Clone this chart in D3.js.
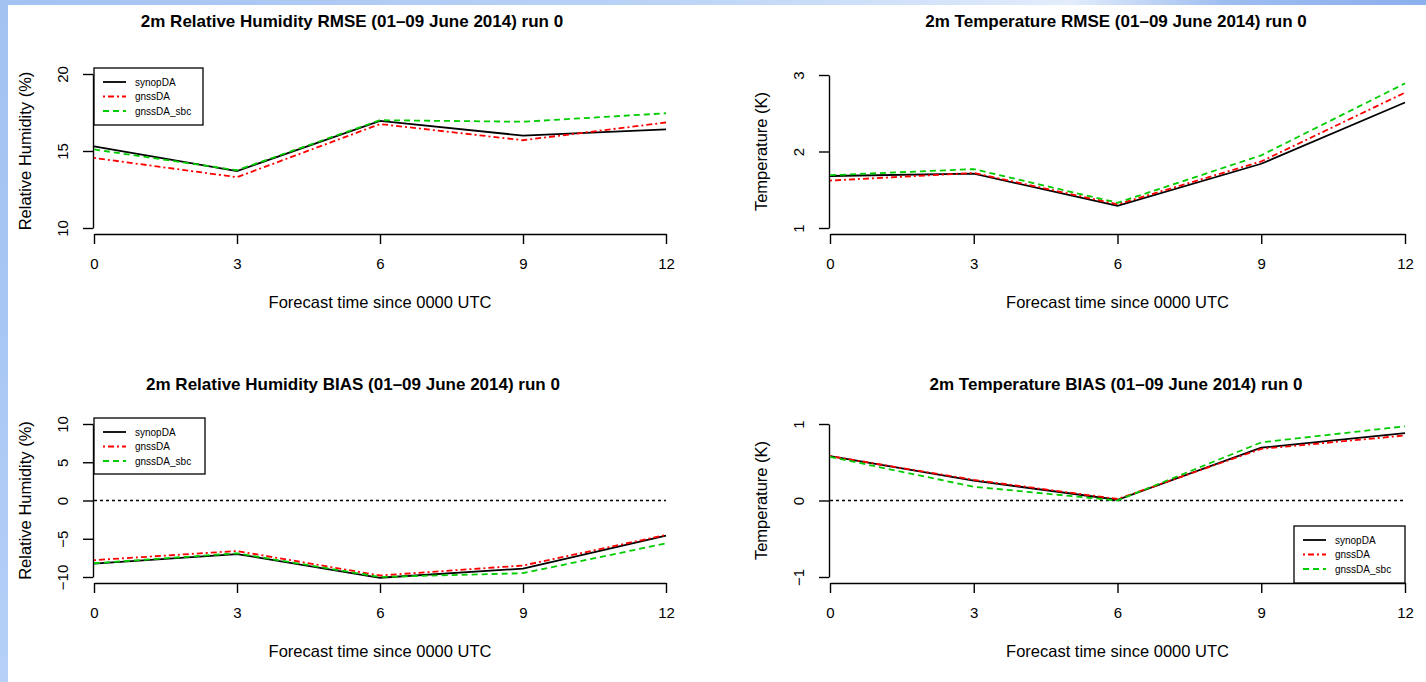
<!DOCTYPE html>
<html>
<head>
<meta charset="utf-8">
<script src="https://cdn.jsdelivr.net/npm/d3@7"></script>
<style>
  html, body { margin: 0; padding: 0; background: #fff; }
  svg { display: block; font-family: "Liberation Sans", Arial, Helvetica, sans-serif; }
</style>
</head>
<body>
<svg width="1426" height="682"></svg>
<script>
// forecast hours and series names
const hours = [0, 3, 6, 9, 12];
const seriesNames = ["synopDA", "gnssDA", "gnssDA_sbc"];

// 2m RH RMSE (%)
const rhRmseSynop = [15.3, 13.7, 16.95, 16.0, 16.4];
const rhRmseGnss  = [14.55, 13.3, 16.75, 15.7, 16.85];
const rhRmseSbc   = [15.1, 13.75, 17.0, 16.9, 17.45];

// 2m T RMSE (K)
const tRmseSynop = [1.68, 1.71, 1.29, 1.84, 2.64];
const tRmseGnss  = [1.62, 1.72, 1.31, 1.87, 2.77];
const tRmseSbc   = [1.69, 1.77, 1.33, 1.95, 2.89];

// 2m RH BIAS (%)
const rhBiasSynop = [-8.25, -7.0, -10.1, -8.9, -4.6];
const rhBiasGnss  = [-7.8, -6.6, -9.8, -8.5, -4.5];
const rhBiasSbc   = [-8.2, -6.9, -10.0, -9.5, -5.6];

// 2m T BIAS (K)
const tBiasSynop = [0.58, 0.26, 0.01, 0.69, 0.88];
const tBiasGnss  = [0.58, 0.27, 0.02, 0.675, 0.85];
const tBiasSbc   = [0.57, 0.18, 0.0, 0.76, 0.97];

const rhRmseTicks = [10, 15, 20];
const tRmseTicks = [1, 2, 3];
const rhBiasTicks = [-10, -5, 0, 5, 10];
const tBiasTicks = [-1, 0, 1];

const colors = ["#000000", "#ff0000", "#00cc00"];
const dashes = [null, "2,3,6,3", "6,4"];

const svg = d3.select("svg");

// slide background: blue strips on the left and top
const defs = svg.append("defs");
const gTop = defs.append("linearGradient").attr("id", "gTop");
[[0, "#a3c2f2"], [0.45, "#b9d2f6"], [0.75, "#e2ecfb"], [0.86, "#9dbdf0"], [1, "#8cb0ee"]]
  .forEach(s => gTop.append("stop").attr("offset", s[0]).attr("stop-color", s[1]));
const gLeft = defs.append("linearGradient").attr("id", "gLeft")
  .attr("x1", 0).attr("x2", 0).attr("y1", 0).attr("y2", 1);
[[0, "#a3c2f2"], [0.5, "#a9c7f4"], [1, "#b6d0f8"]]
  .forEach(s => gLeft.append("stop").attr("offset", s[0]).attr("stop-color", s[1]));

svg.append("rect").attr("x", 0).attr("y", 0).attr("width", 1426).attr("height", 6).attr("fill", "url(#gTop)");
svg.append("rect").attr("x", 0).attr("y", 0).attr("width", 8).attr("height", 682).attr("fill", "url(#gLeft)");
svg.append("rect").attr("x", 8).attr("y", 5).attr("width", 1418).attr("height", 677).attr("fill", "#fff");

const panels = [
  { title: "2m Relative Humidity RMSE (01\u201309 June 2014) run 0", ylab: "Relative Humidity (%)",
    series: [rhRmseSynop, rhRmseGnss, rhRmseSbc], ticks: rhRmseTicks,
    x0: 94, x1: 666, yTop: 74, yBot: 228, axisY: 234, titleX: 352, titleY: 21,
    zero: false, legend: { x: 94, y: 68, w: 109, h: 57 } },
  { title: "2m Temperature RMSE (01\u201309 June 2014) run 0", ylab: "Temperature (K)",
    series: [tRmseSynop, tRmseGnss, tRmseSbc], ticks: tRmseTicks,
    x0: 830, x1: 1405, yTop: 75, yBot: 228, axisY: 234, titleX: 1116, titleY: 21,
    zero: false, legend: null },
  { title: "2m Relative Humidity BIAS (01\u201309 June 2014) run 0", ylab: "Relative Humidity (%)",
    series: [rhBiasSynop, rhBiasGnss, rhBiasSbc], ticks: rhBiasTicks,
    x0: 94, x1: 666, yTop: 424, yBot: 577, axisY: 583, titleX: 353, titleY: 384,
    zero: true, legend: { x: 94, y: 418, w: 111, h: 56 } },
  { title: "2m Temperature BIAS (01\u201309 June 2014) run 0", ylab: "Temperature (K)",
    series: [tBiasSynop, tBiasGnss, tBiasSbc], ticks: tBiasTicks,
    x0: 830, x1: 1405, yTop: 424, yBot: 577, axisY: 583, titleX: 1116, titleY: 384,
    zero: true, legend: { x: 1294, y: 526, w: 111, h: 57 } }
];

panels.forEach(p => {
  const g = svg.append("g");
  const x = d3.scaleLinear().domain([hours[0], hours[hours.length - 1]]).range([p.x0, p.x1]);
  const y = d3.scaleLinear().domain(d3.extent(p.ticks)).range([p.yBot, p.yTop]);

  // title
  g.append("text")
    .attr("x", p.titleX).attr("y", p.titleY + 6)
    .attr("text-anchor", "middle")
    .style("font-weight", "bold").style("font-size", "17px")
    .text(p.title);

  // x axis
  const xa = g.append("g")
    .attr("transform", "translate(0," + p.axisY + ")")
    .call(d3.axisBottom(x).tickValues(hours).tickSize(10).tickSizeOuter(0).tickFormat(d3.format("d")));
  xa.selectAll("text").attr("y", 24).attr("dy", "0.71em").style("font-size", "15px").attr("fill", "#000");
  xa.selectAll("line, path").attr("stroke", "#000").attr("stroke-width", 1.4);
  xa.attr("font-family", null);

  // y axis
  const ya = g.append("g")
    .attr("transform", "translate(" + (p.x0 - 1) + ",0)")
    .call(d3.axisLeft(y).tickValues(p.ticks).tickSize(10).tickSizeOuter(0).tickFormat(d => d < 0 ? "\u2212" + Math.abs(d) : d));
  ya.selectAll("text")
    .attr("x", 0).attr("y", -25).attr("dy", null)
    .attr("text-anchor", "middle")
    .attr("transform", "rotate(-90)")
    .style("font-size", "15px").attr("fill", "#000");
  ya.selectAll("line, path").attr("stroke", "#000").attr("stroke-width", 1.4);
  ya.attr("font-family", null);

  // axis titles
  g.append("text")
    .attr("x", (p.x0 + p.x1) / 2).attr("y", p.axisY + 74)
    .attr("text-anchor", "middle").style("font-size", "16.5px")
    .text("Forecast time since 0000 UTC");
  g.append("text")
    .attr("transform", "translate(" + (p.x0 - 63) + "," + ((p.yTop + p.yBot) / 2) + ") rotate(-90)")
    .attr("text-anchor", "middle").style("font-size", "16.5px")
    .text(p.ylab);

  // zero reference line
  if (p.zero) {
    g.append("line")
      .attr("x1", x(hours[0])).attr("x2", x(hours[hours.length - 1]))
      .attr("y1", y(0)).attr("y2", y(0))
      .attr("stroke", "#000").attr("stroke-width", 1.5).attr("stroke-dasharray", "3,3");
  }

  // series
  const line = d3.line().x((d, i) => x(hours[i])).y(d => y(d));
  p.series.forEach((s, i) => {
    g.append("path")
      .datum(s)
      .attr("d", line)
      .attr("fill", "none")
      .attr("stroke", colors[i])
      .attr("stroke-width", 1.8)
      .attr("stroke-dasharray", dashes[i]);
  });

  // legend
  if (p.legend) {
    const L = p.legend;
    const lg = g.append("g").attr("transform", "translate(" + L.x + "," + L.y + ")");
    lg.append("rect").attr("width", L.w).attr("height", L.h)
      .attr("fill", "#fff").attr("stroke", "#000").attr("stroke-width", 1.3);
    seriesNames.forEach((name, i) => {
      const yy = 14 + i * 14.5;
      lg.append("line").attr("x1", 9).attr("x2", 32).attr("y1", yy).attr("y2", yy)
        .attr("stroke", colors[i]).attr("stroke-width", 1.8).attr("stroke-dasharray", dashes[i]);
      lg.append("text").attr("x", 41).attr("y", yy + 3.5)
        .style("font-size", "10px").text(name);
    });
  }
});
</script>
</body>
</html>
